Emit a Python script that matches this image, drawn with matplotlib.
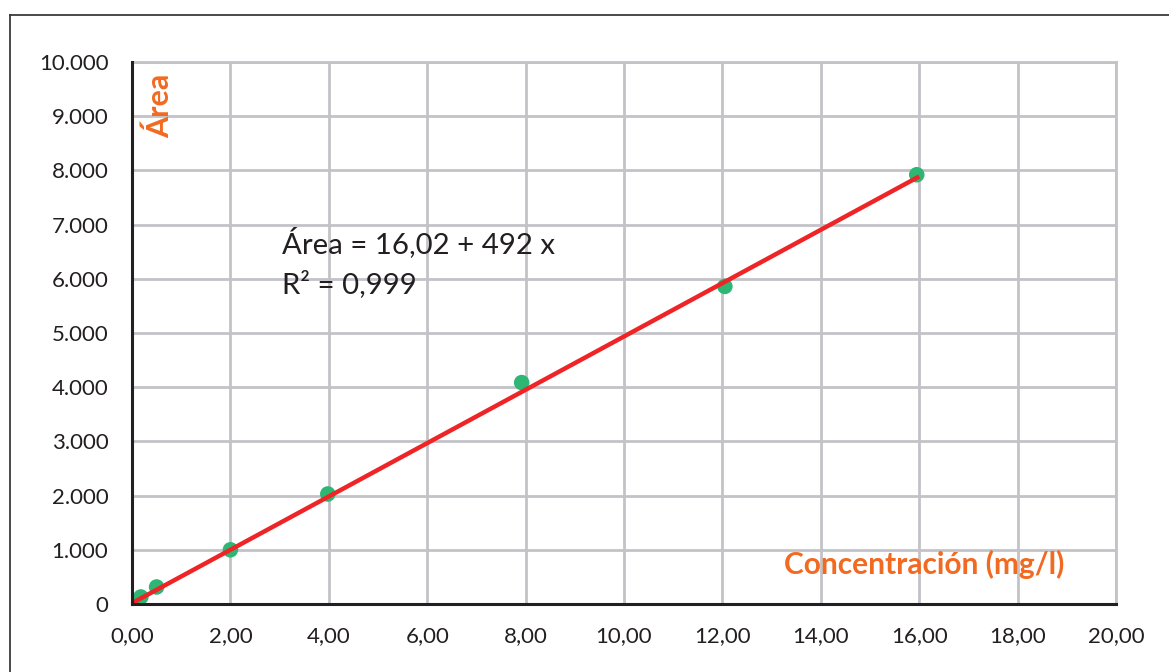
import matplotlib
matplotlib.use("Agg")
import matplotlib.pyplot as plt
import numpy as np

# Data
conc = [0.18, 0.50, 2.00, 3.98, 7.92, 12.05, 15.95]
area = [130, 314, 1000, 2030, 4085, 5860, 7920]
intercept = 16.02
slope = 492.0
fit_x = [0.0, 16.0]
x_ticks = [0, 2, 4, 6, 8, 10, 12, 14, 16, 18, 20]
y_ticks = [0, 1000, 2000, 3000, 4000, 5000, 6000, 7000, 8000, 9000, 10000]
x_labels = ["0,00", "2,00", "4,00", "6,00", "8,00", "10,00", "12,00", "14,00", "16,00", "18,00", "20,00"]
y_labels = ["0", "1.000", "2.000", "3.000", "4.000", "5.000", "6.000", "7.000", "8.000", "9.000", "10.000"]
eq_text = "Área = 16,02 + 492 x"
r2_text = "R² = 0,999"
xlabel = "Concentración (mg/l)"
ylabel = "Área"

plt.rcParams['font.family'] = ['Lato', 'DejaVu Sans']

W, H = 1169, 672
fig = plt.figure(figsize=(W / 100, H / 100), dpi=100)
fig.patch.set_facecolor("white")

# outer frame
fig.add_artist(plt.Line2D([10 / W, 10 / W], [0, 1 - 15 / H], transform=fig.transFigure, color="#3a3a3a", lw=1.3))
fig.add_artist(plt.Line2D([10 / W, 1], [1 - 15 / H, 1 - 15 / H], transform=fig.transFigure, color="#3a3a3a", lw=1.3))

ax = fig.add_axes([132 / W, 1 - 604 / H, (1116 - 132) / W, (604 - 62) / H])
ax.set_xlim(0, 20)
ax.set_ylim(0, 10000)

grid_col = "#C3C3C7"
ax.set_xticks(x_ticks)
ax.set_yticks(y_ticks)
ax.set_xticklabels(x_labels)
ax.set_yticklabels(y_labels)
ax.grid(True, color=grid_col, lw=2.0)
ax.set_axisbelow(True)
ax.tick_params(length=0, labelsize=16, colors="#231F20")
ax.tick_params(axis="x", pad=16)
ax.tick_params(axis="y", pad=17)
for s in ["top", "right"]:
    ax.spines[s].set_color(grid_col)
    ax.spines[s].set_linewidth(2.0)
for s in ["left", "bottom"]:
    ax.spines[s].set_color("#231F20")
    ax.spines[s].set_linewidth(2.2)
    ax.spines[s].set_zorder(5)

ax.scatter(conc, area, s=125, color="#2DB674", zorder=3, clip_on=False, edgecolors="none")
fx = np.array(fit_x)
ax.plot(fx, intercept + slope * fx, color="#EE2427", lw=3.2, zorder=4, solid_capstyle="butt")

ax.text(3.05, 6480, eq_text, fontsize=21.2, color="#231F20", va="baseline", ha="left")
ax.text(3.05, 5740, r2_text, fontsize=21.2, color="#231F20", va="baseline", ha="left")

orange = "#F26A21"
ax.text(13.25, 560, xlabel, fontsize=21.5, fontweight="bold", color=orange, ha="left", va="baseline")
ax.text(0.27, 9190, ylabel, fontsize=22, fontweight="bold", color=orange, ha="left", va="center", rotation=90)

fig.savefig("out.png", dpi=100)
